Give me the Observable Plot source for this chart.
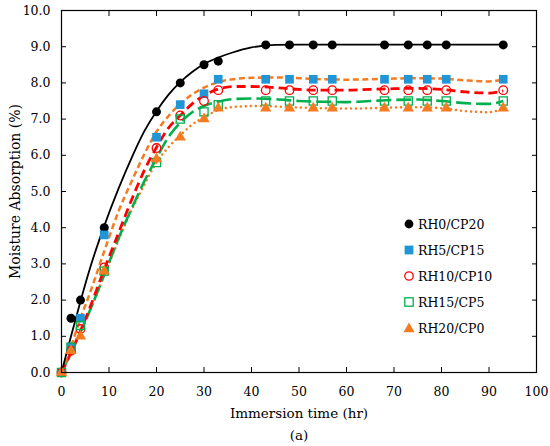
<!DOCTYPE html>
<html>
<head>
<meta charset="utf-8">
<script src="https://cdn.jsdelivr.net/npm/d3@7"></script>
<script src="https://cdn.jsdelivr.net/npm/@observablehq/plot@0.6"></script>
<style>
  body { margin: 0; background: #fff; }
  #wrap { position: relative; width: 550px; height: 446px; background: #fff; font-family: "DejaVu Serif", serif; }
  #legend { position: absolute; left: 401px; top: 211px; font-size: 12.5px; color: #000; }
  #legend .row { display: flex; align-items: center; height: 26px; }
  #legend svg { width: 16px; height: 16px; margin-right: 1px; overflow: visible; }
</style>
</head>
<body>
<div id="wrap"><div id="legend"></div></div>
<script>
// ---- measured data (immersion time in hr, moisture absorption in %) ----
const times = [0, 2, 4, 9, 20, 25, 30, 33, 43, 48, 53, 57, 68, 73, 77, 81, 93];
const seriesNames = ["RH0/CP20", "RH5/CP15", "RH10/CP10", "RH15/CP5", "RH20/CP0"];
const rh0cp20 = [0, 1.5, 2.0, 4.0, 7.2, 8.0, 8.5, 8.6, 9.05, 9.05, 9.05, 9.05, 9.05, 9.05, 9.05, 9.05, 9.05];
const rh5cp15 = [0, 0.7, 1.5, 3.8, 6.5, 7.4, 7.7, 8.1, 8.1, 8.1, 8.1, 8.1, 8.1, 8.1, 8.1, 8.1, 8.1];
const rh10cp10 = [0, 0.6, 1.2, 2.9, 6.2, 7.1, 7.5, 7.8, 7.8, 7.8, 7.8, 7.8, 7.8, 7.8, 7.8, 7.8, 7.8];
const rh15cp5 = [0, 0.7, 1.3, 2.8, 5.8, 7.0, 7.2, 7.4, 7.5, 7.5, 7.5, 7.5, 7.5, 7.5, 7.5, 7.5, 7.5];
const rh20cp0 = [0, 0.6, 1.0, 2.8, 5.9, 6.5, 7.0, 7.3, 7.3, 7.3, 7.3, 7.3, 7.3, 7.3, 7.3, 7.3, 7.3];

// ---- trend lines ----
const trendTimes = [0, 2, 4, 6, 9, 12, 15, 17.5, 20, 22.5, 25, 27.5, 30, 33, 36, 40, 45, 50, 55, 60, 65, 70, 75, 80, 85, 90, 93];
const fitRH0 = [0, 1.0, 1.97, 2.88, 4.05, 5.08, 6.0, 6.68, 7.22, 7.67, 8.02, 8.3, 8.52, 8.7, 8.84, 8.98, 9.05, 9.06, 9.06, 9.06, 9.06, 9.06, 9.06, 9.06, 9.06, 9.06, 9.06];
const fitRH5 = [0, 0.72, 1.5, 2.2, 3.35, 4.45, 5.35, 6.05, 6.65, 7.08, 7.42, 7.68, 7.87, 8.02, 8.1, 8.14, 8.15, 8.13, 8.1, 8.09, 8.1, 8.12, 8.13, 8.12, 8.07, 8.04, 8.1];
const fitRH10 = [0, 0.55, 1.15, 1.8, 2.85, 3.85, 4.85, 5.6, 6.22, 6.75, 7.1, 7.42, 7.65, 7.83, 7.9, 7.9, 7.87, 7.82, 7.8, 7.8, 7.82, 7.84, 7.85, 7.82, 7.75, 7.72, 7.78];
const fitRH15 = [0, 0.55, 1.12, 1.72, 2.7, 3.7, 4.6, 5.3, 5.92, 6.5, 6.9, 7.19, 7.36, 7.48, 7.55, 7.57, 7.55, 7.5, 7.48, 7.47, 7.5, 7.53, 7.54, 7.5, 7.44, 7.42, 7.5];
const fitRH20 = [0, 0.55, 1.1, 1.7, 2.68, 3.65, 4.55, 5.2, 5.8, 6.22, 6.55, 6.85, 7.05, 7.25, 7.33, 7.36, 7.35, 7.32, 7.3, 7.29, 7.3, 7.32, 7.33, 7.3, 7.22, 7.19, 7.3];

// ---- tick labels ----
const xTicks = [0, 10, 20, 30, 40, 50, 60, 70, 80, 90, 100];
const yTicks = [0, 1, 2, 3, 4, 5, 6, 7, 8, 9, 10];
const xTitle = "Immersion time (hr)";
const yTitle = "Moisture Absorption (%)";
const caption = "(a)";

const BLUE = "#2196D6", RED = "#FF0000", GREEN = "#00B04F", ORANGE = "#F47B20";

const pts = vals => times.map((t, i) => ({t, v: vals[i]}));
const fit = vals => trendTimes.map((t, i) => ({t, v: vals[i]}));

const chart = Plot.plot({
  width: 550,
  height: 446,
  marginLeft: 61,
  marginRight: 14,
  marginTop: 10,
  marginBottom: 74,
  x: {domain: [0, 100]},
  y: {domain: [0, 10]},
  style: {fontFamily: "'DejaVu Serif', serif", fontSize: "12.5px", color: "#000", background: "#fff"},
  marks: [
    Plot.axisX({ticks: xTicks, tickSize: -5, tickPadding: 20, tickFormat: d => String(d), label: null}),
    Plot.axisX({anchor: "top", ticks: xTicks, tickSize: -5, tickFormat: () => "", label: null}),
    Plot.axisY({ticks: yTicks, tickSize: -5, tickPadding: 16, tickFormat: d3.format(".1f"), label: null}),
    Plot.axisY({anchor: "right", ticks: yTicks, tickSize: -5, tickFormat: () => "", label: null}),
    Plot.line(fit(fitRH20), {x: "t", y: "v", stroke: ORANGE, strokeWidth: 2.5, strokeDasharray: "0.01,5", strokeLinecap: "round", curve: "monotone-x"}),
    Plot.line(fit(fitRH15), {x: "t", y: "v", stroke: GREEN, strokeWidth: 2.6, strokeDasharray: "15,5", strokeLinecap: "butt", curve: "monotone-x"}),
    Plot.line(fit(fitRH10), {x: "t", y: "v", stroke: RED, strokeWidth: 2.8, strokeDasharray: "9,5", strokeLinecap: "butt", curve: "monotone-x"}),
    Plot.line(fit(fitRH5), {x: "t", y: "v", stroke: ORANGE, strokeWidth: 2.5, strokeDasharray: "6,3.5", strokeLinecap: "butt", curve: "monotone-x"}),
    Plot.line(fit(fitRH0), {x: "t", y: "v", stroke: "#000", strokeWidth: 1.8, curve: "monotone-x"}),
    Plot.dot(pts(rh0cp20), {x: "t", y: "v", r: 4.5, fill: "#000", symbol: "circle"}),
    Plot.dot(pts(rh5cp15), {x: "t", y: "v", r: 4.9, fill: BLUE, symbol: "square"}),
    Plot.dot(pts(rh10cp10), {x: "t", y: "v", r: 4.3, stroke: RED, strokeWidth: 1.3, fill: "none", symbol: "circle"}),
    Plot.dot(pts(rh15cp5), {x: "t", y: "v", r: 4.6, stroke: GREEN, strokeWidth: 1.3, fill: "none", symbol: "square"}),
    Plot.dot(pts(rh20cp0), {x: "t", y: "v", r: 4.2, fill: ORANGE, symbol: "triangle"}),
    Plot.frame({stroke: "#000", strokeWidth: 1.2}),
    Plot.text([xTitle], {text: d => d, frameAnchor: "bottom", lineAnchor: "middle", textAnchor: "middle", dy: 41, fontSize: 13.5}),
    Plot.text([caption], {text: d => d, frameAnchor: "bottom", lineAnchor: "middle", textAnchor: "middle", dy: 63, fontSize: 13.5}),
    Plot.text([yTitle], {text: d => d, frameAnchor: "left", lineAnchor: "middle", textAnchor: "middle", rotate: -90, dx: -46, fontSize: 14})
  ]
});

const wrap = document.getElementById("wrap");
wrap.insertBefore(chart, wrap.firstChild);

// ---- legend ----
const legendSymbols = [
  '<circle cx="8" cy="8" r="4.4" fill="#000"/>',
  `<rect x="3.6" y="3.6" width="8.8" height="8.8" fill="${BLUE}"/>`,
  `<circle cx="8" cy="8" r="4.2" fill="none" stroke="${RED}" stroke-width="1.3"/>`,
  `<rect x="3.8" y="3.8" width="8.4" height="8.4" fill="none" stroke="${GREEN}" stroke-width="1.3"/>`,
  `<path d="M8,2.5 L13.5,12.2 L2.5,12.2 Z" fill="${ORANGE}"/>`
];
const legend = document.getElementById("legend");
seriesNames.forEach((name, i) => {
  const row = document.createElement("div");
  row.className = "row";
  row.innerHTML = `<svg viewBox="0 0 16 16">${legendSymbols[i]}</svg><span>${name}</span>`;
  legend.appendChild(row);
});
</script>
</body>
</html>
